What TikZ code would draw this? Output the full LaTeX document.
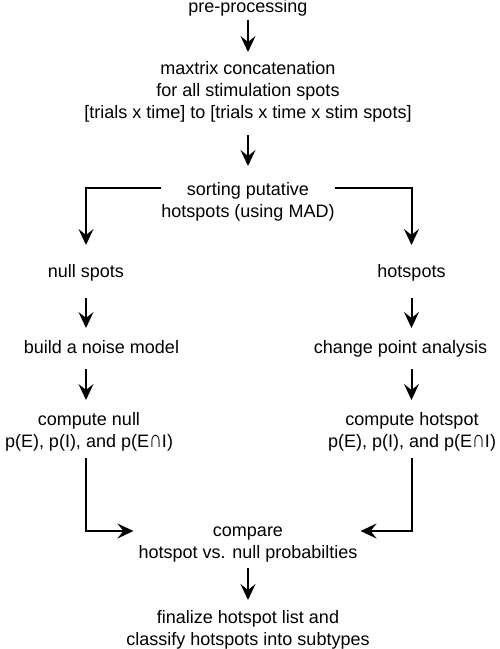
\documentclass[tikz,border=0pt]{standalone}
\usepackage{fontspec}
\setmainfont{Liberation Sans}
\usetikzlibrary{arrows.meta}
\newcommand{\capint}{\scalebox{1}[1.35]{∩}}

\begin{document}
\begin{tikzpicture}[
    x=1pt, y=-1pt,
    font=\fontsize{18}{22}\selectfont,
    >={Stealth[length=16pt,width=15pt,inset=6pt]},
    txt/.style={align=center, inner sep=0pt, anchor=base},
    line/.style={->, line width=2pt}
]
\useasboundingbox (0,0) rectangle (500,649);
% base of a multi-line node = its last line
\node[txt] (pre) at (248,12) {pre-processing};
\node[txt] (mat) at (248,118) {maxtrix concatenation\\for all stimulation spots\\{}[trials x time] to [trials x time x stim spots]};
\node[txt] (sort) at (248,217) {sorting putative\\hotspots (using MAD)};
\node[txt] (nul) at (86,277) {null spots};
\node[txt] (hot) at (411.5,277) {hotspots};
\node[txt] (noise) at (101.5,353) {build a noise model};
\node[txt] (chg) at (400.5,353) {change point analysis};
\node[txt] (cnull) at (89,447) {compute null\\p(E), p(I), and p(E\capint I)};
\node[txt] (chot) at (412,447) {compute hotspot\\p(E), p(I), and p(E\capint I)};
\node[txt] (cmp) at (248,558) {compare\\hotspot vs. null probabilties};
\node[txt] (fin) at (248,645) {finalize hotspot list and\\classify hotspots into subtypes};
\coordinate (cmpin) at ([yshift=27pt]cmp.base);
\draw[line, shorten <=8pt, shorten >=66pt] (pre.base) -- (pre.base |- mat.base);
\draw[line, shorten <=17pt, shorten >=51pt] (mat.base) -- (sort.base);
\draw[line, shorten >=32pt] (sort.west |- sort.base) ++(0,-29) -| (nul.base);
\draw[line, shorten >=32pt] (sort.east |- sort.base) ++(0,-29) -| (hot.base);
\draw[line, shorten <=21pt, shorten >=25pt] (nul.base) -- (nul.base |- noise.base);
\draw[line, shorten <=21pt, shorten >=25pt] (hot.base) -- (hot.base |- chg.base);
\draw[line, shorten <=16pt, shorten >=47pt] (nul.base |- noise.base) -- (nul.base |- cnull.base);
\draw[line, shorten <=16pt, shorten >=47pt] (hot.base |- chg.base) -- (hot.base |- chot.base);
\draw[line, shorten >=5pt] (nul.base |- cnull.base) ++(0,11) |- (cmp.west |- cmpin);
\draw[line, shorten >=3pt] (hot.base |- chot.base) ++(0,11) |- (cmp.east |- cmpin);
\draw[line, shorten <=10pt, shorten >=45pt] (cmp.base) -- (fin.base);
\end{tikzpicture}
\end{document}
